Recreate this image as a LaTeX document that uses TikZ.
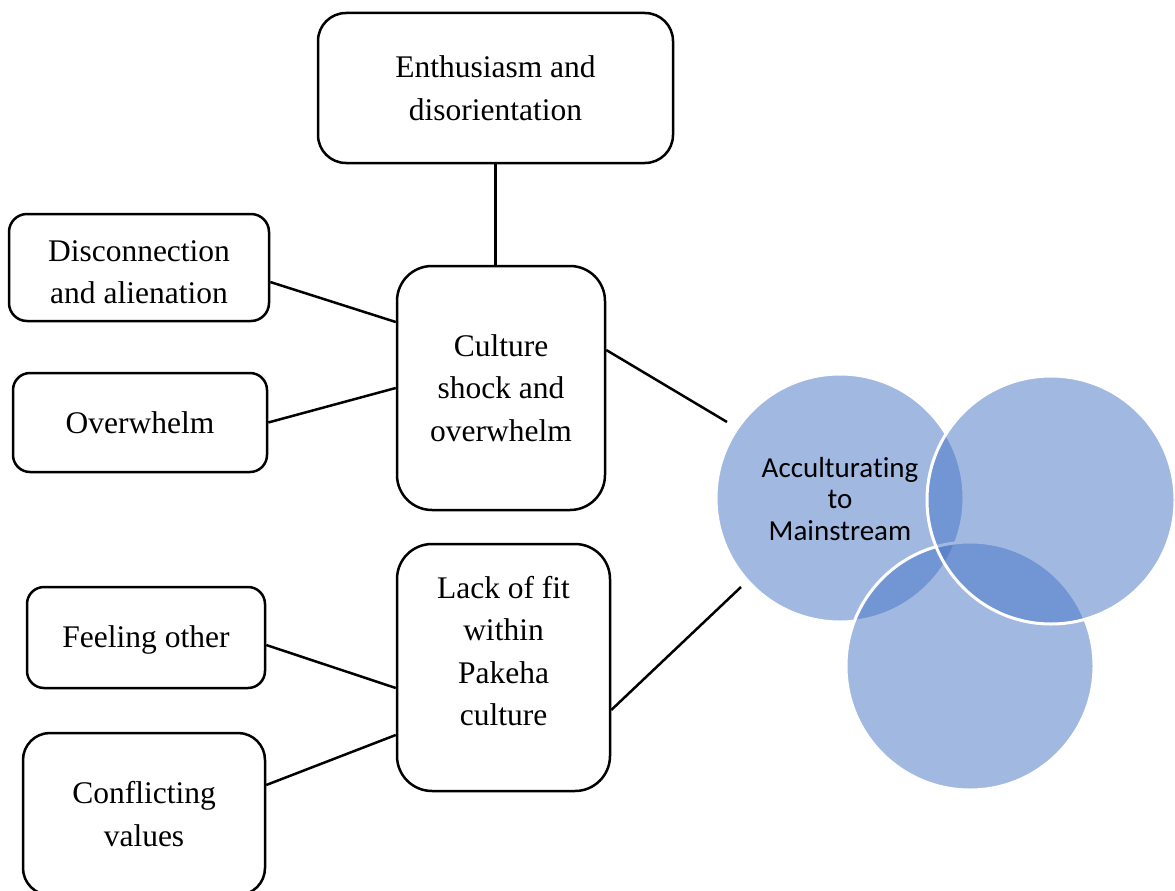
\documentclass[tikz,border=0pt]{standalone}
\usepackage{fontspec}
\setmainfont{Liberation Serif}
\newfontfamily\calib[Ligatures=NoCommon]{Carlito}
\definecolor{acc}{HTML}{4472C4}
\begin{document}
\begin{tikzpicture}[x=1pt,y=-1pt,
  box/.style={draw, line width=2.5pt, rounded corners=#1, align=center, inner sep=0pt,
              font=\fontsize{31.5}{42.5}\selectfont},
  box/.default=18pt,
  txt/.style={align=center, inner sep=0pt, font=\fontsize{31.5}{42.5}\selectfont},
  link/.style={line width=2.5pt},
  blob/.style={circle, minimum size=248pt, inner sep=0pt, fill=acc, fill opacity=.5,
               draw=white, line width=3pt}]
\useasboundingbox (0,0) rectangle (1175,891);
\clip (0,0) rectangle (1175,891);

% boxes
\node[box=28pt, minimum width=355pt, minimum height=150pt] (enth) at (495.5,88) {Enthusiasm and\\disorientation};
\node[box=18pt, minimum width=260pt, minimum height=107pt] (disc) at (139,267.5) {};
\node[txt] (disctxt) at (139,272) {Disconnection\\and alienation};
\node[box=17pt, minimum width=254pt, minimum height=99pt] (overw) at (140,422.5) {Overwhelm};
\node[box=35pt, minimum width=208pt, minimum height=244pt] (cult) at (501,388) {Culture\\shock and\\overwhelm};
\node[box=35pt, minimum width=213pt, minimum height=247pt] (lack) at (503.5,667.5) {};
\node[txt] (lacktxt) at (503.5,651) {Lack of fit\\within\\Pakeha\\culture};
\node[box=17pt, minimum width=238pt, minimum height=101pt] (feel) at (146,637.5) {};
\node[txt] (feeltxt) at (146,639.5) {Feeling other};
\node[box=27pt, minimum width=242pt, minimum height=162pt] (conf) at (144,814) {Conflicting\\values};

% free ends
\coordinate (e1) at (727,422);
\coordinate (e2) at (741,587);

% connectors
\draw[link] (enth.south) -- (enth.south |- cult.north);
\draw[link] ([yshift=-14.5pt]disc.east) -- ([yshift=66pt]cult.west);
\draw[link] (overw.east) -- (cult.west);
\draw[link] ([yshift=38pt]cult.east) -- (e1);
\draw[link] ([yshift=-42.5pt]lack.east) -- (e2);
\draw[link] ([yshift=-7.5pt]feel.east) -- ([yshift=-20.5pt]lack.west);
\draw[link] ([yshift=29pt]conf.east) -- ([yshift=-67.5pt]lack.west);

% venn circles
\node[blob] (c1) at (840,498) {};
\node[blob] (c3) at (970,666) {};
\node[blob] (c2) at (1051,500) {};
\node[align=center, inner sep=0pt, font=\calib\fontsize{29}{31.5}\selectfont] (acctxt) at (840,499) {Acculturating\\to\\Mainstream};
\end{tikzpicture}
\end{document}
